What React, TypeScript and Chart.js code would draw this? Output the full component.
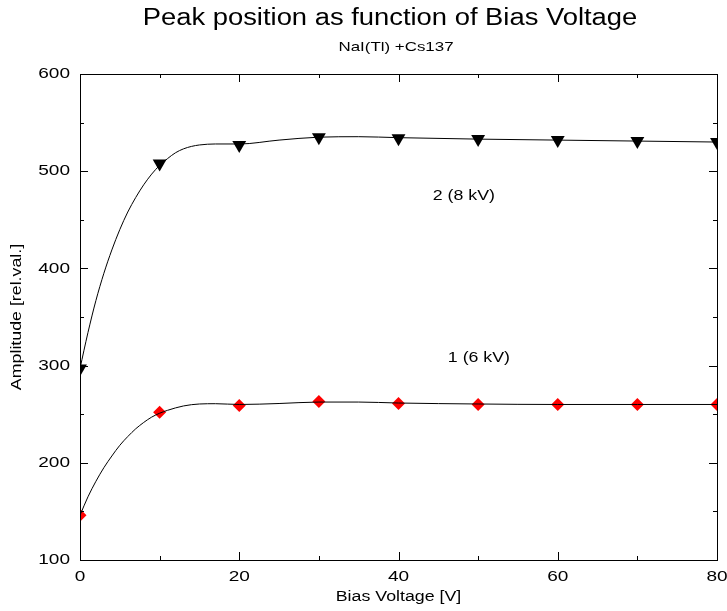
import React, { useEffect, useRef } from "react";
import { Chart, registerables } from "chart.js";

Chart.register(...registerables);

// ---- data ----
const biasVoltage = [0, 10, 20, 30, 40, 50, 60, 70, 80];
const peak8kV = [297, 508, 527, 535, 534, 533, 532, 531, 530];
const peak6kV = [146, 252, 259, 263, 261, 260, 260, 260, 260];

// smooth fit curves
const fit8kVX = [0, 1, 2, 3, 4, 5, 6, 7, 8, 9, 10, 11, 12, 13, 14, 15, 17, 20, 25, 30, 35, 40, 50, 60, 70, 80];
const fit8kVY = [297, 334, 367, 395, 419, 440, 458, 473, 486, 497, 506, 513, 519, 523, 525.5, 527, 528, 528, 532, 535, 535.5, 534.5, 533, 532, 531, 530];
const fit6kVX = [0, 1, 2, 3, 4, 5, 6, 7, 8, 9, 10, 11, 12, 13, 14, 15, 17, 20, 25, 30, 35, 40, 50, 60, 70, 80];
const fit6kVY = [146, 165, 181, 195, 207, 218, 227, 235, 241.5, 247, 251, 254, 256.5, 258.5, 259.8, 260.5, 260.8, 260, 261, 262.5, 262.5, 261.5, 260.5, 260, 260, 260];

const chartTitle = "Peak position as function of Bias Voltage";
const chartSubtitle = "NaI(Tl) +Cs137";
const xAxisTitle = "Bias Voltage [V]";
const yAxisTitle = "Amplitude [rel.val.]";
const label8kV = "2 (8 kV)";
const label6kV = "1 (6 kV)";

const FONT = "'Liberation Sans', Arial, Helvetica, sans-serif";

function drawText(
  ctx: CanvasRenderingContext2D,
  text: string,
  x: number,
  y: number,
  size: number,
  stretch: number,
  align: CanvasTextAlign = "center",
  rotation = 0
) {
  ctx.save();
  ctx.translate(x, y);
  if (rotation) ctx.rotate(rotation);
  ctx.scale(stretch, 1);
  ctx.font = `${size}px ${FONT}`;
  ctx.fillStyle = "#000";
  ctx.textAlign = align;
  ctx.textBaseline = "middle";
  ctx.fillText(text, 0, 0);
  ctx.restore();
}

const framePlugin = {
  id: "frameTicks",
  afterDraw(chart: any) {
    const { ctx, chartArea, scales } = chart;
    const x = scales.x;
    const y = scales.y;
    const { left, right, top, bottom } = chartArea;
    ctx.save();
    ctx.strokeStyle = "#000";
    ctx.lineWidth = 1;
    ctx.beginPath();
    ctx.rect(Math.round(left) + 0.5, Math.round(top) + 0.5, Math.round(right - left), Math.round(bottom - top));
    ctx.stroke();
    const major = 8;
    const minor = 4;
    const xt = x.ticks.map((t: any) => t.value);
    const yt = y.ticks.map((t: any) => t.value);
    ctx.beginPath();
    xt.forEach((v: number, i: number) => {
      const px = Math.round(x.getPixelForValue(v)) + 0.5;
      ctx.moveTo(px, bottom); ctx.lineTo(px, bottom - major);
      ctx.moveTo(px, top); ctx.lineTo(px, top + major);
      if (i < xt.length - 1) {
        const mx = Math.round(x.getPixelForValue((v + xt[i + 1]) / 2)) + 0.5;
        ctx.moveTo(mx, bottom); ctx.lineTo(mx, bottom - minor);
        ctx.moveTo(mx, top); ctx.lineTo(mx, top + minor);
      }
    });
    yt.forEach((v: number, i: number) => {
      const py = Math.round(y.getPixelForValue(v)) + 0.5;
      ctx.moveTo(left, py); ctx.lineTo(left + major, py);
      ctx.moveTo(right, py); ctx.lineTo(right - major, py);
      if (i < yt.length - 1) {
        const my = Math.round(y.getPixelForValue((v + yt[i + 1]) / 2)) + 0.5;
        ctx.moveTo(left, my); ctx.lineTo(left + minor, my);
        ctx.moveTo(right, my); ctx.lineTo(right - minor, my);
      }
    });
    ctx.stroke();
    ctx.restore();

    const S = 1.27;
    // tick labels from the library's scales
    x.ticks.forEach((t: any) => {
      drawText(ctx, String(t.label), x.getPixelForValue(t.value), 577, 15, S);
    });
    y.ticks.forEach((t: any) => {
      drawText(ctx, String(t.label), 70, y.getPixelForValue(t.value), 15, S, "right");
    });
    // axis titles
    drawText(ctx, xAxisTitle, (left + right) / 2, 597, 14, S);
    drawText(ctx, yAxisTitle, 17, (top + bottom) / 2, 14, S, "center", -Math.PI / 2);
    // titles
    drawText(ctx, chartTitle, 390, 19, 23, 1.19);
    drawText(ctx, chartSubtitle, 396, 47, 13, 1.3);
    // curve labels
    drawText(ctx, label8kV, x.getPixelForValue(48.2), y.getPixelForValue(474), 14, S);
    drawText(ctx, label6kV, x.getPixelForValue(50.1), y.getPixelForValue(308), 14, S);
  },
};

export default function App() {
  const ref = useRef<HTMLCanvasElement>(null);
  useEffect(() => {
    const canvas = ref.current;
    if (!canvas) return;
    const toPts = (xs: number[], ys: number[]) => xs.map((v, i) => ({ x: v, y: ys[i] }));
    const chart = new Chart(canvas, {
      type: "line",
      data: {
        datasets: [
          {
            data: toPts(fit8kVX, fit8kVY),
            borderColor: "#000",
            borderWidth: 1,
            pointRadius: 0,
            cubicInterpolationMode: "monotone",
            fill: false,
          },
          {
            data: toPts(fit6kVX, fit6kVY),
            borderColor: "#000",
            borderWidth: 1,
            pointRadius: 0,
            cubicInterpolationMode: "monotone",
            fill: false,
          },
          {
            data: toPts(biasVoltage, peak8kV),
            showLine: false,
            pointStyle: "triangle",
            rotation: 180,
            pointRadius: 8,
            pointBackgroundColor: "#000",
            pointBorderColor: "#000",
            pointBorderWidth: 0,
          },
          {
            data: toPts(biasVoltage, peak6kV),
            showLine: false,
            pointStyle: "rectRot",
            pointRadius: 6.5,
            pointBackgroundColor: "#f00",
            pointBorderColor: "#f00",
            pointBorderWidth: 0,
          },
        ],
      },
      options: {
        responsive: false,
        animation: false,
        events: [],
        layout: { padding: { top: 74, right: 10, left: 0, bottom: 0 } },
        plugins: {
          legend: { display: false },
          tooltip: { enabled: false },
        },
        scales: {
          x: {
            type: "linear",
            min: 0,
            max: 80,
            grid: { display: false, drawTicks: false },
            border: { display: true, color: "#000", width: 1 },
            ticks: { stepSize: 20, display: false },
            title: { display: false },
            afterFit: (s: any) => { s.height = 51; s.paddingLeft = 0; s.paddingRight = 0; },
          },
          y: {
            type: "linear",
            min: 100,
            max: 600,
            grid: { display: false, drawTicks: false },
            border: { display: true, color: "#000", width: 1 },
            ticks: { stepSize: 100, display: false },
            title: { display: false },
            afterFit: (s: any) => { s.width = 80; s.paddingTop = 0; s.paddingBottom = 0; },
          },
        },
      },
      plugins: [framePlugin],
    } as any);
    return () => chart.destroy();
  }, []);
  return (
    <div style={{ position: "fixed", left: 0, top: 0, width: 727, height: 611, background: "#fff" }}>
      <canvas ref={ref} width={727} height={611} style={{ width: 727, height: 611 }} />
    </div>
  );
}
